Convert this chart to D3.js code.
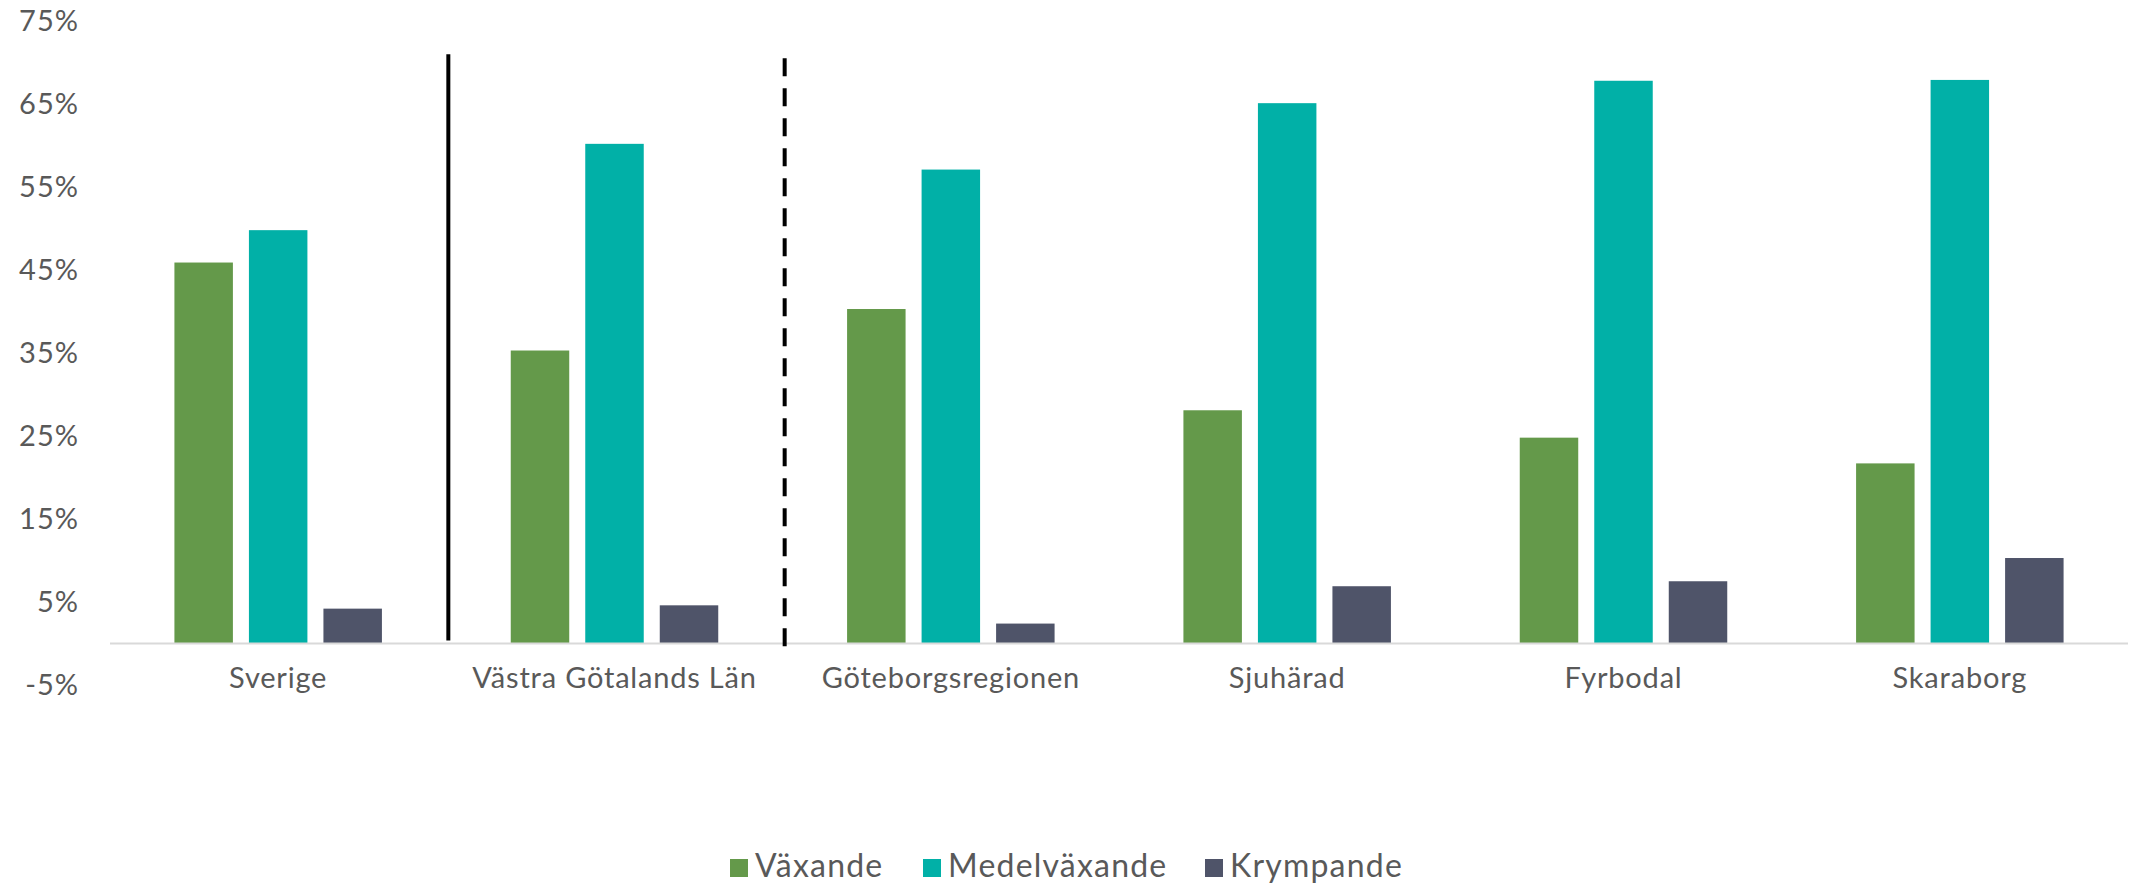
<!DOCTYPE html>
<html>
<head>
<meta charset="utf-8">
<script src="https://cdn.jsdelivr.net/npm/d3@7/dist/d3.min.js"></script>
<style>
  html, body { margin: 0; padding: 0; background: #ffffff; }
  svg { display: block; }
  text { font-family: Lato, "Open Sans", sans-serif; fill: #595959; }
</style>
</head>
<body>
<svg id="chart" width="2142" height="885"></svg>
<script>
// Regions along the x axis
const categories = ["Sverige", "Västra Götalands Län", "Göteborgsregionen", "Sjuhärad", "Fyrbodal", "Skaraborg"];

// Share of municipalities per growth class (%)
const seriesNames = ["Växande", "Medelväxande", "Krympande"];
const vaxande      = [45.9, 35.3, 40.3, 28.1, 24.8, 21.7];
const medelvaxande = [49.8, 60.2, 57.1, 65.1, 67.8, 67.9];
const krympande    = [4.2, 4.6, 2.4, 6.9, 7.5, 10.3];

// Y axis ticks
const yTicks = [-5, 5, 15, 25, 35, 45, 55, 65, 75];

const colors = ["#64994a", "#01b0a7", "#4f5469"];
const seriesValues = [vaxande, medelvaxande, krympande];

const svg = d3.select("#chart");

const x0 = d3.scaleBand().domain(categories).range([110, 2128]).paddingInner(0).paddingOuter(0);
const groupW = 207.5;
const x1 = d3.scaleBand().domain(seriesNames)
  .range([(x0.bandwidth() - groupW) / 2, (x0.bandwidth() + groupW) / 2])
  .paddingInner(0.215).paddingOuter(0);
const y = d3.scaleLinear().domain([-5, 75]).range([685, 21]);

// Y axis labels (no axis line, no ticks)
const yAxis = d3.axisLeft(y).tickValues(yTicks).tickSize(0).tickPadding(0)
  .tickFormat(d => d + "%");
const gy = svg.append("g").attr("transform", "translate(79,0)").call(yAxis);
gy.select(".domain").remove();
gy.selectAll("text")
  .attr("x", 0).attr("dy", "0.34em")
  .style("font-family", "Lato, sans-serif")
  .style("font-size", "29px")
  .style("letter-spacing", "1px")
  .attr("fill", "#595959");

// Bars
const rows = categories.map((c, i) => ({ cat: c, vals: seriesNames.map((s, j) => ({ s, v: seriesValues[j][i], k: j })) }));
const groups = svg.append("g").selectAll("g").data(rows).join("g")
  .attr("transform", d => `translate(${x0(d.cat)},0)`);
groups.selectAll("rect").data(d => d.vals).join("rect")
  .attr("x", d => x1(d.s))
  .attr("width", x1.bandwidth())
  .attr("y", d => y(Math.max(0, d.v)))
  .attr("height", d => Math.abs(y(d.v) - y(0)))
  .attr("fill", d => colors[d.k]);

// Horizontal axis line at 0%
svg.append("line")
  .attr("x1", x0.range()[0]).attr("x2", x0.range()[1])
  .attr("y1", y(0)).attr("y2", y(0))
  .attr("stroke", "#d9d9d9").attr("stroke-width", 2);

// Category labels
svg.append("g").selectAll("text").data(categories).join("text")
  .attr("x", d => x0(d) + x0.bandwidth() / 2)
  .attr("y", 688)
  .attr("text-anchor", "middle")
  .style("font-size", "29px")
  .style("letter-spacing", "0.8px")
  .text(d => d);

// Separators: solid after the national figure, dashed after the county figure
const sep1 = x0(categories[1]) + 2;
const sep2 = x0(categories[2]) + 2;
svg.append("line")
  .attr("x1", sep1).attr("x2", sep1)
  .attr("y1", y(71)).attr("y2", y(0) - 3)
  .attr("stroke", "#000").attr("stroke-width", 4);
svg.append("line")
  .attr("x1", sep2).attr("x2", sep2)
  .attr("y1", y(70.5)).attr("y2", y(-0.5))
  .attr("stroke", "#000").attr("stroke-width", 4)
  .attr("stroke-dasharray", "18,12");

// Legend
const legendX = [730, 923, 1205];
const legend = svg.append("g").selectAll("g").data(seriesNames).join("g")
  .attr("transform", (d, i) => `translate(${legendX[i]},859)`);
legend.append("rect").attr("width", 18).attr("height", 18).attr("fill", (d, i) => colors[i]);
legend.append("text")
  .attr("x", 25).attr("y", 18)
  .style("font-size", "32px")
  .style("letter-spacing", "1.2px")
  .text(d => d);
</script>
</body>
</html>
